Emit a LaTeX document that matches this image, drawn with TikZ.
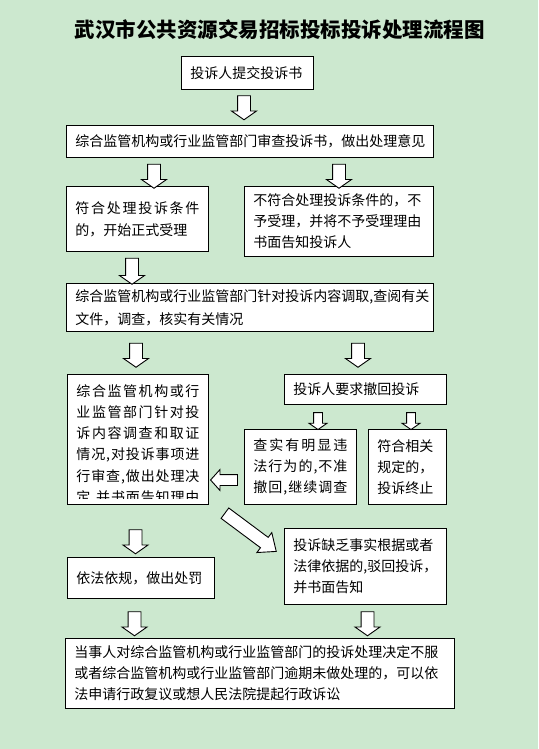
\documentclass[tikz,border=0pt]{standalone}
\usepackage{fontspec}
\newfontfamily\cjk{Noto Sans CJK SC}
\usetikzlibrary{shapes.arrows}
\definecolor{eyegreen}{RGB}{204,232,207}
% stretch one line of characters over the full text width
\def\spreadloop#1#2\stopspread{#1\if\relax\detokenize{#2}\relax\else\hfil\spreadloop#2\stopspread\fi}
\newcommand\spreadline[1]{\makebox[\hsize][s]{\spreadloop#1\stopspread}}
\tikzset{
	box/.style={draw, fill=white, line width=0.9pt, anchor=north west, align=left,
		inner xsep=9pt, inner ysep=0pt, font=\cjk\fontsize{14}{21}\selectfont},
	fatarrow/.style={single arrow, draw, fill=white, line width=0.9pt, inner xsep=0pt,
		inner ysep=6pt, minimum height=24pt, single arrow head extend=6pt,
		single arrow head indent=0pt, single arrow tip angle=110, rotate=-90},
	slimarrow/.style={fatarrow, inner ysep=4pt, minimum height=17pt, single arrow head extend=4.5pt}
}
\begin{document}
\begin{tikzpicture}[x=1pt, y=-1pt]
	\fill[eyegreen] (0,0) rectangle (538,749);
	\useasboundingbox (0,0) rectangle (538,749);
	\node[font=\cjk\bfseries\fontsize{20.5}{24}\selectfont] (title) at (279.5,30) {武汉市公共资源交易招标投标投诉处理流程图};

	\node[box, text width=114pt, minimum height=33pt] (submit) at (181,56) {投诉人提交投诉书};
	\node[box, text width=349pt, minimum height=32pt] (review) at (66,125) {综合监管机构或行业监管部门审查投诉书，做出处理意见};
	\node[box, text width=124pt, minimum height=65pt, font=\cjk\fontsize{14}{22}\selectfont] (accept) at (66,186) {\spreadline{符合处理投诉条件}\\的，开始正式受理};
	\node[box, text width=171pt, minimum height=70pt] (refuse) at (244,186) {不符合处理投诉条件的，不\\予受理，并将不予受理理由\\书面告知投诉人};
	\node[box, text width=349pt, minimum height=48pt, font=\cjk\fontsize{14}{23}\selectfont] (check) at (66,283) {综合监管机构或行业监管部门针对投诉内容调取,查阅有关\\文件，调查，核实有关情况};

	% text of this box runs out of it
	\filldraw[fill=white, line width=0.9pt] (67,374) rectangle (208,504);
	\begin{scope}
		\clip (67,374) rectangle (208,498);
		\node[box, draw=none, fill=none, text width=123pt, inner ysep=10pt,
			font=\cjk\fontsize{14}{21.2}\selectfont] (decide) at (67,374)
			{\spreadline{综合监管机构或行}\\\spreadline{业监管部门针对投}\\\spreadline{诉内容调查和取证}\\
			\spreadline{情况,对投诉事项进}\\\spreadline{行审查,做出处理决}\\\spreadline{定,并书面告知理由}};
	\end{scope}

	\node[box, text width=144pt, minimum height=30pt] (withdraw) at (284,374) {投诉人要求撤回投诉};
	\node[box, text width=94pt, minimum height=75pt] (deny) at (244,429) {\spreadline{查实有明显违}\\\spreadline{法行为的,不准}\\\spreadline{撤回,继续调查}};
	\node[box, text width=60pt, minimum height=75pt] (stop) at (368,429) {符合相关\\规定的，\\投诉终止};
	\node[box, text width=129pt, minimum height=41pt] (punish) at (67,557) {依法依规，做出处罚};
	\node[box, text width=144pt, minimum height=76pt] (dismiss) at (284,528) {投诉缺乏事实根据或者\\法律依据的,驳回投诉，\\并书面告知};
	\node[box, text width=371pt, minimum height=70pt] (appeal) at (65,638) {当事人对综合监管机构或行业监管部门的投诉处理决定不服\\或者综合监管机构或行业监管部门逾期未做处理的，可以依\\法申请行政复议或想人民法院提起行政诉讼};

	\node[fatarrow] (ar1) at (244,105.5) {};
	\node[fatarrow] (ar2) at (154,174) {};
	\node[fatarrow] (ar3) at (339,174) {};
	\node[fatarrow, minimum height=26pt] (ar4) at (132,269) {};
	\node[fatarrow] (ar5) at (136,353) {};
	\node[fatarrow] (ar6) at (358,353) {};
	\node[slimarrow] (ar7) at (318,419.5) {};
	\node[slimarrow] (ar8) at (411,419.5) {};
	\node[fatarrow, rotate=-90, inner ysep=5pt, single arrow head extend=5pt, single arrow tip angle=96, minimum height=27pt] (ar9) at (226.5,480) {};
	\node[fatarrow, rotate=90-36.7, minimum height=64pt, single arrow tip angle=80] (ar10) at (247.5,530) {};
	\node[fatarrow] (ar11) at (135.5,539.5) {};
	\node[fatarrow] (ar12) at (134.5,621.5) {};
	\node[fatarrow] (ar13) at (367.5,621.5) {};
\end{tikzpicture}
\end{document}
